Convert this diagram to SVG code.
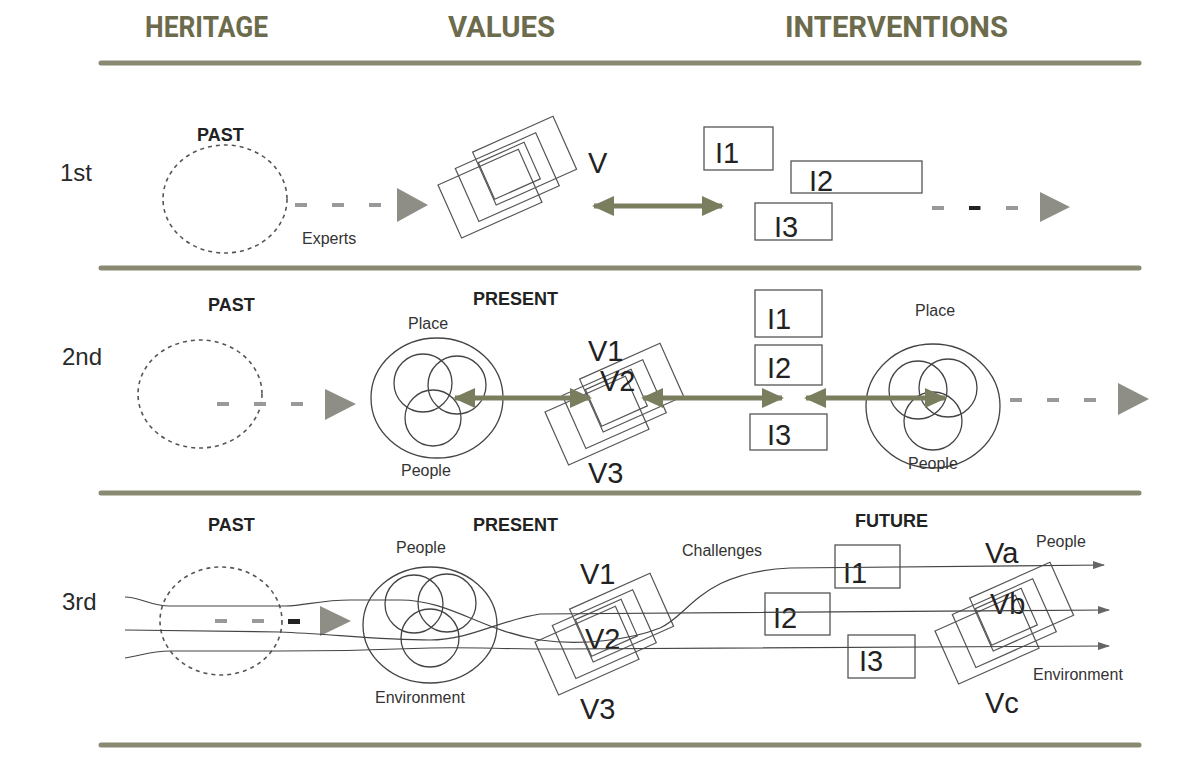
<svg xmlns="http://www.w3.org/2000/svg" width="1200" height="777" viewBox="0 0 1200 777">
<defs>
<style>
.hdr{font-family:Roboto,"Liberation Sans",sans-serif;font-weight:700;font-size:29px;fill:#6c6b4c}
.row{font-family:"Liberation Sans",Arial,sans-serif;font-size:24px;fill:#2a2a2a}
.era{font-family:"Liberation Sans",Arial,sans-serif;font-weight:700;font-size:18px;fill:#222}
.lbl{font-family:"Liberation Sans",Arial,sans-serif;font-size:16px;fill:#333}
.big{font-family:"Liberation Sans",Arial,sans-serif;font-size:29px;fill:#222}
.rule{stroke:#8a8a72;stroke-width:5;stroke-linecap:round}
.past{fill:none;stroke:#555;stroke-width:1.6;stroke-dasharray:4 4}
.box{fill:#fff;stroke:#555;stroke-width:1.3}
.vr{fill:none;stroke:#555;stroke-width:1.2}
.ring{fill:none;stroke:#444;stroke-width:1.3}
.dash{stroke:#999;stroke-width:4;stroke-dasharray:12 25}
.tri{fill:#8e8e86}
.dbl{stroke:#7b7e5e;stroke-width:5;fill:none;marker-start:url(#oh);marker-end:url(#oh)}
.thin{fill:none;stroke:#444;stroke-width:1.2}
</style>
<marker id="oh" markerUnits="userSpaceOnUse" markerWidth="22" markerHeight="20" refX="20" refY="10" orient="auto-start-reverse"><path d="M0,0 L22,10 L0,20 z" fill="#7b7e5e"/></marker>
<marker id="th" markerUnits="userSpaceOnUse" markerWidth="12" markerHeight="8" refX="11" refY="4" orient="auto"><path d="M0,0 L12,4 L0,8 z" fill="#666"/></marker>
<g id="vstack">
<rect class="vr" x="45" y="-16" width="88" height="58"/>
<rect class="vr" x="22.5" y="-8" width="88" height="58"/>
<rect class="vr" x="0" y="0" width="88" height="58"/>
<rect class="vr" x="46" y="-4" width="50" height="40"/>
</g>
</defs>
<rect width="1200" height="777" fill="#fff"/>

<g id="headers">
<text class="hdr" x="145" y="37" textLength="123" lengthAdjust="spacingAndGlyphs">HERITAGE</text>
<text class="hdr" x="448" y="37" textLength="107" lengthAdjust="spacingAndGlyphs">VALUES</text>
<text class="hdr" x="785" y="37" textLength="223" lengthAdjust="spacingAndGlyphs">INTERVENTIONS</text>
</g>

<g id="rules">
<line class="rule" x1="101" y1="63" x2="1139" y2="63"/>
<line class="rule" x1="101" y1="268" x2="1139" y2="268"/>
<line class="rule" x1="101" y1="493" x2="1139" y2="493"/>
<line class="rule" x1="101" y1="745" x2="1139" y2="745"/>
</g>

<!-- Row 1 -->
<g id="row1-label"><text class="row" x="60" y="181">1st</text></g>
<g id="r1-past">
<text class="era" x="197" y="141">PAST</text>
<ellipse class="past" cx="225" cy="199" rx="62" ry="54"/>
</g>
<g id="r1-values">
<use href="#vstack" transform="translate(438,185) rotate(-24)"/>
<text class="big" x="588" y="173">V</text>
</g>
<g id="r1-i1"><rect class="box" x="704" y="127" width="69" height="43"/><text class="big" x="715" y="163">I1</text></g>
<g id="r1-i2"><rect class="box" x="791" y="161" width="131" height="32"/><text class="big" x="809" y="191">I2</text></g>
<g id="r1-i3"><rect class="box" x="755" y="203" width="77" height="37"/><text class="big" x="774" y="237">I3</text></g>
<g id="r1-experts"><text class="lbl" x="302" y="244">Experts</text></g>

<!-- Row 2 -->
<g id="row2-label"><text class="row" x="62" y="365">2nd</text></g>
<g id="r2-past">
<text class="era" x="208" y="311">PAST</text>
<ellipse class="past" cx="200" cy="394" rx="62" ry="54"/>
</g>
<g id="r2-present-circle">
<text class="era" x="473" y="305">PRESENT</text>
<text class="lbl" x="408" y="329">Place</text>
<ellipse class="ring" cx="437" cy="398" rx="66" ry="60"/>
<circle class="ring" cx="423" cy="383" r="29"/>
<circle class="ring" cx="457" cy="385" r="29"/>
<circle class="ring" cx="433" cy="418" r="28"/>
<text class="lbl" x="401" y="476">People</text>
</g>
<g id="r2-values">
<use href="#vstack" transform="translate(545,412) rotate(-24)"/>
<text class="big" x="588" y="361">V1</text>
<text class="big" x="600" y="391">V2</text>
<text class="big" x="588" y="483">V3</text>
</g>
<g id="r2-i1"><rect class="box" x="755" y="290" width="67" height="47"/><text class="big" x="767" y="329">I1</text></g>
<g id="r2-i2"><rect class="box" x="755" y="345" width="67" height="40"/><text class="big" x="767" y="378">I2</text></g>
<g id="r2-i3"><rect class="box" x="750" y="414" width="77" height="36"/><text class="big" x="767" y="445">I3</text></g>
<g id="r2-future-circle">
<text class="lbl" x="915" y="316">Place</text>
<ellipse class="ring" cx="933" cy="406" rx="67" ry="62"/>
<circle class="ring" cx="918" cy="390" r="29"/>
<circle class="ring" cx="948" cy="388" r="29"/>
<circle class="ring" cx="933" cy="421" r="29"/>
<text class="lbl" x="908" y="469">People</text>
</g>

<!-- Row 3 -->
<g id="row3-label"><text class="row" x="62" y="610">3rd</text></g>
<g id="r3-past">
<text class="era" x="208" y="531">PAST</text>
<ellipse class="past" cx="221" cy="621" rx="61" ry="54"/>
</g>
<g id="r3-present-circle">
<text class="era" x="473" y="531">PRESENT</text>
<text class="lbl" x="396" y="553">People</text>
<ellipse class="ring" cx="430" cy="625" rx="67" ry="58"/>
<circle class="ring" cx="414" cy="604" r="29"/>
<circle class="ring" cx="447" cy="603" r="29"/>
<circle class="ring" cx="430" cy="638" r="29"/>
<text class="lbl" x="375" y="703">Environment</text>
</g>
<g id="r3-values">
<use href="#vstack" transform="translate(535,642) rotate(-24)"/>
<text class="big" x="580" y="584">V1</text>
<text class="big" x="585" y="649">V2</text>
<text class="big" x="580" y="719">V3</text>
</g>
<g id="r3-future">
<text class="era" x="855" y="527">FUTURE</text>
<text class="lbl" x="682" y="556">Challenges</text>
</g>
<g id="r3-i1"><rect class="box" x="835" y="545" width="65" height="43" fill-opacity="0"/><text class="big" x="843" y="583">I1</text></g>
<g id="r3-i2"><rect class="box" x="765" y="593" width="65" height="42" fill-opacity="0"/><text class="big" x="773" y="628">I2</text></g>
<g id="r3-i3"><rect class="box" x="848" y="635" width="67" height="43" fill-opacity="0"/><text class="big" x="859" y="671">I3</text></g>
<g id="r3-future-values">
<use href="#vstack" transform="translate(935,631) rotate(-24)"/>
<text class="big" x="985" y="563">Va</text>
<text class="big" x="990" y="614">Vb</text>
<text class="big" x="985" y="713">Vc</text>
<text class="lbl" x="1036" y="547" font-size="15">People</text>
<text class="lbl" x="1033" y="680">Environment</text>
</g>

<g id="connectors">
<!-- row 1 -->
<line class="dash" x1="295" y1="205" x2="385" y2="205"/>
<path class="tri" d="M397,188 L428,205 L397,222 z"/>
<line class="dbl" x1="594" y1="206" x2="722" y2="206"/>
<line class="dash" x1="932" y1="208" x2="1020" y2="208"/>
<rect x="969" y="206" width="11" height="4" fill="#222"/>
<path class="tri" d="M1040,192 L1070,207 L1040,222 z"/>
<!-- row 2 -->
<line class="dash" x1="217" y1="404" x2="305" y2="404"/>
<path class="tri" d="M325,389 L356,404 L325,420 z"/>
<line class="dbl" x1="455" y1="398" x2="590" y2="398"/>
<line class="dbl" x1="643" y1="398" x2="782" y2="398"/>
<line class="dbl" x1="806" y1="398" x2="945" y2="398"/>
<line class="dash" x1="1010" y1="400" x2="1098" y2="400"/>
<path class="tri" d="M1118,383 L1149,399 L1118,415 z"/>
<!-- row 3 -->
<line class="dash" x1="215" y1="621" x2="265" y2="621" stroke-dasharray="13 22"/>
<rect x="288" y="619" width="12" height="5" fill="#222"/>
<path class="tri" d="M320,606 L351,621 L320,636 z"/>
<path class="thin" marker-end="url(#th)" d="M125,597 C140,597 150,606 170,606 L285,606 C305,606 320,600 350,600 L400,600 C450,600 480,630 540,640 C580,646 630,640 660,628 C690,615 700,572 790,568 L1104,565"/>
<path class="thin" marker-end="url(#th)" d="M125,630 L280,632 C330,634 380,640 430,640 C470,640 500,620 540,614 L1109,610"/>
<path class="thin" marker-end="url(#th)" d="M125,658 C140,656 150,651 170,651 L280,651 C330,651 380,650 430,648 C470,647 500,649 560,649 L1109,646"/>
</g>
</svg>
